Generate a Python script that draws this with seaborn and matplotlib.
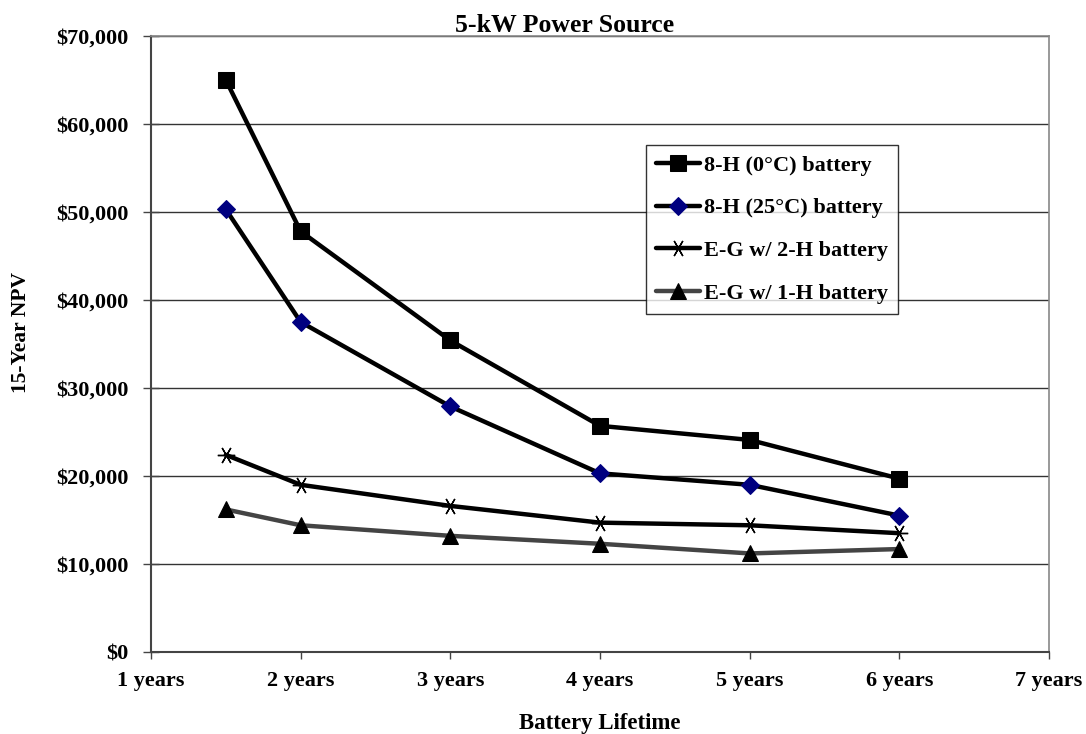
import matplotlib
matplotlib.use("Agg")
import matplotlib.pyplot as plt
import seaborn as sns
import pandas as pd
from matplotlib.ticker import FuncFormatter

years = [1.5, 2, 3, 4, 5, 6]
s_0c = [65000, 47800, 35400, 25700, 24100, 19700]
s_25c = [50300, 37500, 27900, 20300, 19000, 15500]
s_2h = [22400, 19000, 16600, 14700, 14400, 13500]
s_1h = [16200, 14400, 13200, 12300, 11200, 11700]
names = ["8-H (0°C) battery", "8-H (25°C) battery", "E-G w/ 2-H battery", "E-G w/ 1-H battery"]
xticks = [1, 2, 3, 4, 5, 6, 7]
xlabels = [f"{t} years" for t in xticks]

sns.set_theme(style="white")
plt.rcParams['font.family'] = ['Liberation Serif', 'DejaVu Serif']
plt.rcParams['font.weight'] = 'bold'
plt.rcParams['text.color'] = 'black'
plt.rcParams['axes.labelcolor'] = 'black'
plt.rcParams['xtick.color'] = 'black'
plt.rcParams['ytick.color'] = 'black'

fig = plt.figure(figsize=(10.86, 7.34), dpi=100)
ax = fig.add_axes([151/1086, 1 - 652/734, 898/1086, 616/734])

styles = [
    dict(color="black", marker="s", markersize=11.5, markerfacecolor="black", markeredgecolor="black", linewidth=3.2),
    dict(color="black", marker="D", markersize=9.5, markerfacecolor="#000080", markeredgecolor="#000080", linewidth=3.2),
    dict(color="black", marker=(6, 2, 90), markersize=12.5, markerfacecolor="black", markeredgecolor="black", markeredgewidth=1, linewidth=3.2),
    dict(color="#444444", marker="^", markersize=12, markerfacecolor="black", markeredgecolor="black", linewidth=3.2),
]
for name, vals, st in zip(names, [s_0c, s_25c, s_2h, s_1h], styles):
    df = pd.DataFrame({"x": years, "y": vals})
    sns.lineplot(data=df, x="x", y="y", ax=ax, label=name, **st)

ax.set_xlim(1, 7)
ax.set_ylim(0, 70000)
ax.set_xticks(xticks)
ax.set_xticklabels(xlabels)
ax.set_yticks(range(0, 70001, 10000))
ax.yaxis.set_major_formatter(FuncFormatter(lambda v, p: f"${int(v):,}"))
ax.grid(axis="y", color="#333333", linewidth=1)
ax.grid(axis="x", visible=False)
for side in ["top", "right"]:
    ax.spines[side].set_color("#888888")
    ax.spines[side].set_linewidth(1.2)
for side in ["left", "bottom"]:
    ax.spines[side].set_color("#444444")
    ax.spines[side].set_linewidth(1.5)
ax.tick_params(axis="x", length=5, width=1, color="#444444", labelcolor="black", direction="out", labelsize=16, pad=9, bottom=True)
ax.tick_params(axis="y", length=11, width=1, color="#444444", labelcolor="black", direction="inout", labelsize=16, pad=11, left=True)
for lab in ax.get_xticklabels() + ax.get_yticklabels():
    lab.set_fontweight("bold")

ax.set_xlabel("Battery Lifetime", fontsize=16.5, fontweight="bold", color="black")
ax.xaxis.label.set_va("center")
ax.xaxis.set_label_coords(0.5, (652 - 724) / 616)
ax.set_ylabel("15-Year NPV", fontsize=15.5, fontweight="bold", color="black")
ax.yaxis.label.set_va("center")
ax.yaxis.set_label_coords((21 - 151) / 898, (652 - 332) / 616)
fig.text(565/1086, 1 - 26/734, "5-kW Power Source", ha="center", va="center", fontsize=18.5, fontweight="bold", color="black")

leg = ax.legend(loc="upper left", bbox_to_anchor=((646-151)/898, 1 - (145-36)/616), frameon=True,
                fancybox=False, edgecolor="black", handlelength=2.0, handletextpad=0.15,
                labelspacing=1.0, borderpad=0.45, borderaxespad=0,
                prop=dict(weight="bold", size=16))
leg.get_frame().set_linewidth(1)
for t in leg.get_texts():
    t.set_color("black")

fig.savefig("out.png", dpi=100, facecolor="white")
